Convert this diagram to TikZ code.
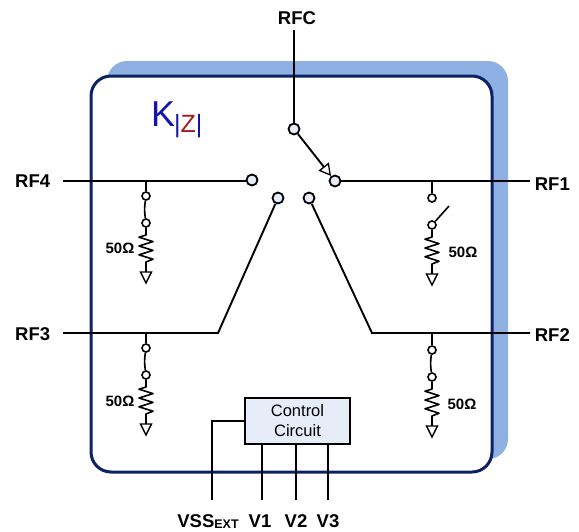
\documentclass[tikz,border=0pt]{standalone}
\usepackage{fontspec}
\setmainfont{Liberation Sans}
\usetikzlibrary{arrows.meta,calc}
\definecolor{navy}{HTML}{0B2265}
\definecolor{backblue}{HTML}{8FB0E3}
\definecolor{pale}{HTML}{E6ECF8}
\definecolor{kblue}{HTML}{1414A6}
\definecolor{kred}{HTML}{A61C1C}
\tikzset{
  wire/.style={draw=black,line width=1.9pt},
  thinwire/.style={draw=black,line width=1.6pt},
  port/.style={circle,draw=black,fill=pale,line width=1.8pt,inner sep=0pt,minimum size=11pt},
  tap/.style={circle,draw=black,fill=white,line width=1.6pt,inner sep=0pt,minimum size=8pt},
  gnd/.style={draw=black,fill=white,line width=1.4pt},
  lab/.style={font=\bfseries\fontsize{18.5}{19}\selectfont,inner sep=0pt},
  ohm/.style={font=\bfseries\fontsize{15}{15}\selectfont,inner sep=0pt},
}
% #1 name, #2 x, #3 bus y, #4 upper tap y, #5 lower tap y
\newcommand{\shuntleg}[5]{%
  \coordinate (#1bus) at (#2,#3);
  \node[tap] (#1a) at (#2,#4) {};
  \node[tap] (#1b) at (#2,#5) {};
  \coordinate (#1r) at (#2,#5+12);
  \coordinate (#1s) at (#2,#5+39);
  \coordinate (#1g) at (#2,#5+49);
  \draw[thinwire] (#1bus) -- (#1a);
  \draw[thinwire,line join=round] (#1b) -- (#1r)
    -- ++(-7,2.2) -- ++(14,4.4) -- ++(-14,4.4) -- ++(14,4.4) -- ++(-14,4.4) -- ++(14,4.4) -- (#1s) -- (#1g);
  \draw[gnd] (#1g) ++(-5.5,0) -- ++(11,0) -- ++(-5.5,11) -- cycle;
}
\begin{document}
\begin{tikzpicture}[x=1pt,y=-1pt]
\useasboundingbox (0,0) rectangle (579,531);
% package
\fill[backblue,rounded corners=20pt] (107,61) rectangle (508,459);
\draw[navy,fill=white,line width=3pt,rounded corners=20pt] (91,76) rectangle (492,472);
\node[inner sep=0pt,anchor=base west,font=\fontsize{36}{36}\selectfont] (klabel) at (151,126) {\textcolor{kblue}{K}};
\node[inner sep=0pt,anchor=base west,font=\fontsize{25}{25}\selectfont] (zlabel) at (174,132) {\textcolor{kblue}{|}\textcolor{kred}{Z}\textcolor{kblue}{|}};
% ports
\node[lab] (RFC) at (297,18) {RFC};
\node[lab,anchor=west] (RF4) at (15,181) {RF4};
\node[lab,anchor=west] (RF3) at (15,334) {RF3};
\node[lab,anchor=east] (RF1) at (570,184) {RF1};
\node[lab,anchor=east] (RF2) at (570,335) {RF2};
\coordinate (rfcend) at (294,30);
\coordinate (rf4end) at (63,181);
\coordinate (rf3end) at (63,333);
\coordinate (rf1end) at (530,181);
\coordinate (rf2end) at (530,333);
\coordinate (bend3) at (218,333);
\coordinate (bend2) at (372,333);
\node[port] (c) at (294,129) {};
\node[port] (p1) at (335,181) {};
\node[port] (p4) at (252,180) {};
\node[port] (p3) at (278,198) {};
\node[port] (p2) at (309,198) {};
\draw[wire] (rfcend) -- (c);
\draw[wire] (rf4end) -- (rf4end -| p4.west);
\draw[wire] (p1) ++(5.5,0) -- (rf1end);
\draw[wire] (rf3end) -- (bend3) -- (p3);
\draw[wire] (rf2end) -- (bend2) -- (p2);
\draw[wire,-{Triangle[open,length=12pt,width=13pt,fill=white,line width=1.3pt]}] (c) -- (p1);
% shunts
\shuntleg{sa}{432}{181}{198}{225}
\draw[thinwire] (sab) -- ++(17,-19) coordinate (saopen);
\node[ohm] (oa) at (463,252) {50Ω};
\shuntleg{sb}{146}{181}{196}{223}
\draw[thinwire] (sba) to[bend right=8] (sbb);
\node[ohm] (ob) at (120,248) {50Ω};
\shuntleg{sc}{146}{333}{348}{375}
\draw[thinwire] (sca) to[bend right=8] (scb);
\node[ohm] (oc) at (120,401) {50Ω};
\shuntleg{sd}{432}{333}{350}{377}
\draw[thinwire] (sda) to[bend right=8] (sdb);
\node[ohm] (od) at (462,404) {50Ω};
% control
\node[draw=black,fill=pale,line width=1.6pt,minimum width=105pt,minimum height=46pt,inner sep=0pt,align=center,font=\fontsize{16.5}{20}\selectfont] (ctl) at (297.5,421) {Control\\Circuit};
\coordinate (vssend) at (212,500);
\coordinate (v1end) at (262,500);
\coordinate (v2end) at (296,500);
\coordinate (v3end) at (328,500);
\draw[wire] (ctl.west) -| (vssend);
\draw[wire] (v1end) -- (v1end |- ctl.south);
\draw[wire] (v2end) -- (v2end |- ctl.south);
\draw[wire] (v3end) -- (v3end |- ctl.south);
\node[lab,anchor=base] (lvss) at (208,527) {VSS\raisebox{-1.5pt}{\fontsize{12.5}{13}\selectfont EXT}};
\node[lab,anchor=base] (lv1) at (260,527) {V1};
\node[lab,anchor=base] (lv2) at (296,527) {V2};
\node[lab,anchor=base] (lv3) at (328,527) {V3};
\end{tikzpicture}
\end{document}
